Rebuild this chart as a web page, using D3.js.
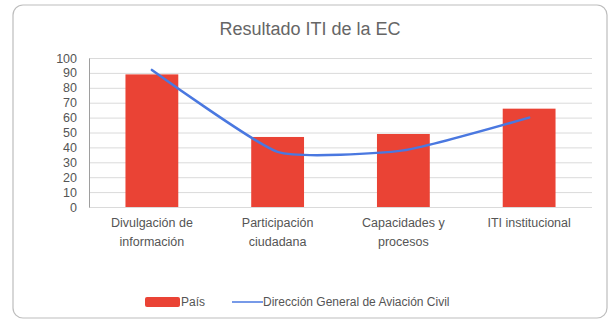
<!DOCTYPE html>
<html>
<head>
<meta charset="utf-8">
<script src="https://cdn.jsdelivr.net/npm/d3@7"></script>
<style>
  html, body { margin: 0; padding: 0; background: #fff; }
  svg { display: block; font-family: "Liberation Sans", Arial, sans-serif; }
</style>
</head>
<body>
<svg id="chart" width="610" height="321"></svg>
<script>
// Index categories and the two series
const categories = [["Divulgación de", "información"], ["Participación", "ciudadana"], ["Capacidades y", "procesos"], ["ITI institucional"]];
const paisValues = [89, 47, 49, 66];
const dgacValues = [92, 37, 38, 60];
const yTicks = [0, 10, 20, 30, 40, 50, 60, 70, 80, 90, 100];
const seriesNames = ["País", "Dirección General de Aviación Civil"];

const svg = d3.select("#chart");
const W = 610, H = 321;
const margin = { left: 89, right: 18, top: 58, bottom: 114 };
const innerW = W - margin.left - margin.right;
const innerH = H - margin.top - margin.bottom;

// Card frame
svg.append("rect")
  .attr("x", 13).attr("y", 5).attr("width", 594).attr("height", 313)
  .attr("rx", 10).attr("ry", 10)
  .attr("fill", "#fff").attr("stroke", "#bdbdbd").attr("stroke-width", 1.2);

svg.append("text")
  .attr("x", 310).attr("y", 35)
  .attr("text-anchor", "middle")
  .attr("font-size", 18).attr("fill", "#666")
  .text("Resultado ITI de la EC");

const idx = categories.map((d, i) => i);
const x = d3.scaleBand().domain(idx).range([0, innerW]).paddingInner(0.58).paddingOuter(0.29);
const y = d3.scaleLinear().domain([0, 100]).range([innerH, 0]);

const g = svg.append("g").attr("transform", `translate(${margin.left},${margin.top})`);

// Horizontal gridlines
g.append("g")
  .selectAll("line")
  .data(yTicks)
  .join("line")
  .attr("x1", 0).attr("x2", innerW)
  .attr("y1", d => y(d) + 0.5).attr("y2", d => y(d) + 0.5)
  .attr("stroke", "#dadada").attr("stroke-width", 1);

// Y axis
const yAxis = g.append("g")
  .call(d3.axisLeft(y).tickValues(yTicks).tickSize(0).tickPadding(12));
yAxis.select(".domain").attr("stroke", "#9e9e9e");
yAxis.selectAll("text").attr("font-size", 12.5).attr("fill", "#555")
  .attr("font-family", "Liberation Sans, Arial, sans-serif");

// Bars
g.append("g")
  .selectAll("rect")
  .data(paisValues)
  .join("rect")
  .attr("x", (d, i) => x(i))
  .attr("y", d => y(d))
  .attr("width", x.bandwidth())
  .attr("height", d => innerH - y(d))
  .attr("fill", "#ea4335");

// Smoothed line
const line = d3.line()
  .x((d, i) => x(i) + x.bandwidth() / 2)
  .y(d => y(d))
  .curve(d3.curveCardinal.tension(0.5));
g.append("path")
  .datum(dgacValues)
  .attr("d", line)
  .attr("fill", "none")
  .attr("stroke", "#4a78e0")
  .attr("stroke-width", 2.5)
  .attr("stroke-linecap", "round");

// Category labels
const xAxis = g.append("g").attr("transform", `translate(0,${innerH})`);
categories.forEach((lines, i) => {
  const t = xAxis.append("text")
    .attr("x", x(i) + x.bandwidth() / 2)
    .attr("y", 20)
    .attr("text-anchor", "middle")
    .attr("font-size", 12.5).attr("fill", "#555");
  lines.forEach((s, k) => {
    t.append("tspan").attr("x", x(i) + x.bandwidth() / 2).attr("dy", k === 0 ? 0 : 19).text(s);
  });
});

// Legend
const lg = svg.append("g");
lg.append("rect").attr("x", 145).attr("y", 297).attr("width", 35).attr("height", 10)
  .attr("rx", 2).attr("fill", "#ea4335");
lg.append("text").attr("x", 181).attr("y", 306).attr("font-size", 12).attr("fill", "#555").text(seriesNames[0]);
lg.append("line").attr("x1", 232).attr("x2", 263).attr("y1", 302).attr("y2", 302)
  .attr("stroke", "#4a78e0").attr("stroke-width", 1.5);
lg.append("text").attr("x", 263).attr("y", 306).attr("font-size", 12).attr("fill", "#555").text(seriesNames[1]);
</script>
</body>
</html>
